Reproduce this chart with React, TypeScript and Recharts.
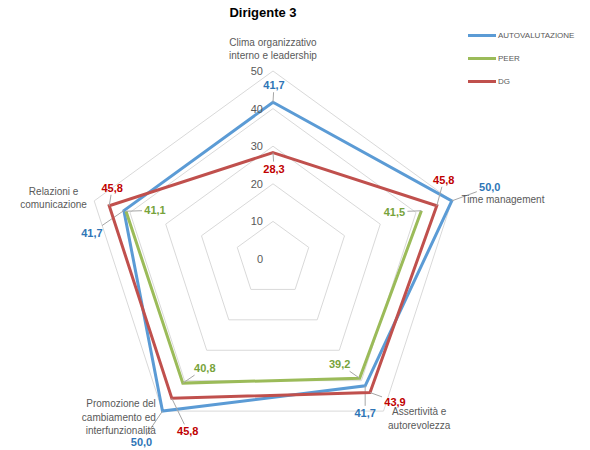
import React from 'react';
import { RadarChart, Radar, PolarGrid, PolarAngleAxis, PolarRadiusAxis } from 'recharts';

// axes, clockwise from the top
const categories = [
  'Clima organizzativo\ninterno e leadership',
  'Time management',
  'Assertività e\nautorevolezza',
  'Promozione del\ncambiamento ed\ninterfunzionalità',
  'Relazioni e\ncomunicazione',
];
const autovalutazione = [41.7, 50.0, 41.7, 50.0, 41.7];
const peer = [null, 41.5, 39.2, 40.8, 41.1]; // no value for Clima -> gap
const dg = [28.3, 45.8, 43.9, 45.8, 45.8];
const radiusTicks = [0, 10, 20, 30, 40, 50];
const seriesNames = ['AUTOVALUTAZIONE', 'PEER', 'DG'];

const data = categories.map((c, i) => ({
  axis: c,
  auto: autovalutazione[i],
  peer: peer[i],
  dg: dg[i],
}));

const FONT = '"Liberation Sans", Arial, sans-serif';

// label offsets relative to each vertex (Excel places them by hand)
const seriesStyle: any = {
  auto: { line: '#5B9BD5', text: '#2E75B6', offsets: [[1, -17], [38, -14], [0, 27], [-21, 31], [-32, 22]] },
  peer: { line: '#9BBB59', text: '#77A33B', offsets: [[0, 0], [-27, 1], [-20, -14], [22, -15], [29, -1]] },
  dg: { line: '#C0504D', text: '#C00000', offsets: [[1, 16], [7, -26], [25, 9], [16, 33], [3, -18]] },
};

const angleLabelPos = [
  { dx: 0, dy: -21, anchor: 'middle' },
  { dx: 2, dy: 1, anchor: 'start' },
  { dx: 31, dy: -6, anchor: 'middle' },
  { dx: -2, dy: -14, anchor: 'end' },
  { dx: -33, dy: -7, anchor: 'middle' },
];

const fmt = (v: number) => v.toFixed(1).replace('.', ',');

const isValid = (p: any) =>
  p && p.value != null && Number.isFinite(p.x) && Number.isFinite(p.y);

// leader line from the label box edge to the point
function leader(px: number, py: number, lx: number, ly: number) {
  const dx = px - lx;
  const dy = py - ly;
  const hw = 13;
  const hh = 7;
  const t = Math.min(dx ? hw / Math.abs(dx) : Infinity, dy ? hh / Math.abs(dy) : Infinity);
  if (t >= 1) return null;
  const sx = lx + dx * t;
  const sy = ly + dy * t;
  if (Math.hypot(px - sx, py - sy) < 5) return null;
  return { sx, sy };
}

// draws the polygon (open where a value is missing) plus the data labels
function makeShape(key: string) {
  const st = seriesStyle[key];
  return (props: any) => {
    const pts = props.points || [];
    const n = pts.length;
    const gap = pts.findIndex((p: any) => !isValid(p));
    let d = '';
    if (gap < 0) {
      d = pts.map((p: any, i: number) => `${i ? 'L' : 'M'}${p.x},${p.y}`).join('') + 'Z';
    } else {
      let pen = false;
      for (let k = 1; k <= n; k++) {
        const p = pts[(gap + k) % n];
        if (isValid(p)) {
          d += `${pen ? 'L' : 'M'}${p.x},${p.y}`;
          pen = true;
        } else pen = false;
      }
    }
    return (
      <g>
        <path d={d} fill="none" stroke={st.line} strokeWidth={3} strokeLinejoin="miter" />
        {pts.map((p: any, i: number) => {
          if (!isValid(p)) return null;
          const lx = p.x + st.offsets[i][0];
          const ly = p.y + st.offsets[i][1];
          const l = leader(p.x, p.y, lx, ly);
          return (
            <g key={i}>
              {l && <line x1={l.sx} y1={l.sy} x2={p.x} y2={p.y} stroke="#A6A6A6" strokeWidth={1} />}
              <text
                x={lx}
                y={ly}
                textAnchor="middle"
                dominantBaseline="central"
                fontFamily={FONT}
                fontSize={11}
                fontWeight="bold"
                fill={st.text}
              >
                {fmt(p.value)}
              </text>
            </g>
          );
        })}
      </g>
    );
  };
}

const AngleTick = (props: any) => {
  const { x, y, payload } = props;
  const i = payload.index ?? props.index;
  const pos = angleLabelPos[i];
  const lines = String(payload.value).split('\n');
  return (
    <text
      x={x + pos.dx}
      y={y + pos.dy}
      textAnchor={pos.anchor}
      fontFamily={FONT}
      fontSize={10}
      fill="#595959"
    >
      {lines.map((l, k) => (
        <tspan key={k} x={x + pos.dx} y={y + pos.dy + k * 13.5} dominantBaseline="central">
          {l}
        </tspan>
      ))}
    </text>
  );
};

const RadiusTick = (props: any) => {
  const { x, y, payload } = props;
  return (
    <text
      x={x - 10}
      y={y}
      textAnchor="end"
      dominantBaseline="central"
      fontFamily={FONT}
      fontSize={11}
      fill="#595959"
    >
      {payload.value}
    </text>
  );
};

const keys = ['auto', 'peer', 'dg'];

export default function App() {
  return (
    <div style={{ position: 'absolute', left: 0, top: 0, width: 590, height: 450, background: '#fff' }}>
      <div
        style={{
          position: 'absolute',
          left: 0,
          width: 526,
          top: 5,
          textAlign: 'center',
          fontFamily: FONT,
          fontWeight: 'bold',
          fontSize: 13,
          color: '#000',
        }}
      >
        Dirigente 3
      </div>

      <div style={{ position: 'absolute', left: 468, top: 24, fontFamily: FONT, fontSize: 8, color: '#595959' }}>
        {keys.map((k, i) => (
          <div key={k} style={{ display: 'flex', alignItems: 'center', height: 23 }}>
            <span style={{ display: 'inline-block', width: 28, height: 3, background: seriesStyle[k].line, marginRight: 2 }} />
            {seriesNames[i]}
          </div>
        ))}
      </div>

      <RadarChart
        width={590}
        height={450}
        data={data}
        cx={273}
        cy={259}
        outerRadius={188}
        margin={{ top: 0, right: 0, bottom: 0, left: 0 }}
      >
        <PolarGrid gridType="polygon" radialLines={false} stroke="#D9D9D9" />
        <PolarAngleAxis dataKey="axis" tick={<AngleTick />} tickLine={false} axisLine={false} />
        <PolarRadiusAxis
          angle={90}
          domain={[0, 50]}
          ticks={radiusTicks as any}
          tickCount={6}
          axisLine={false}
          tick={<RadiusTick />}
        />
        {keys.map((k, i) => (
          <Radar
            key={k}
            name={seriesNames[i]}
            dataKey={k}
            stroke={seriesStyle[k].line}
            fill="none"
            shape={makeShape(k)}
            isAnimationActive={false}
          />
        ))}
      </RadarChart>
    </div>
  );
}
